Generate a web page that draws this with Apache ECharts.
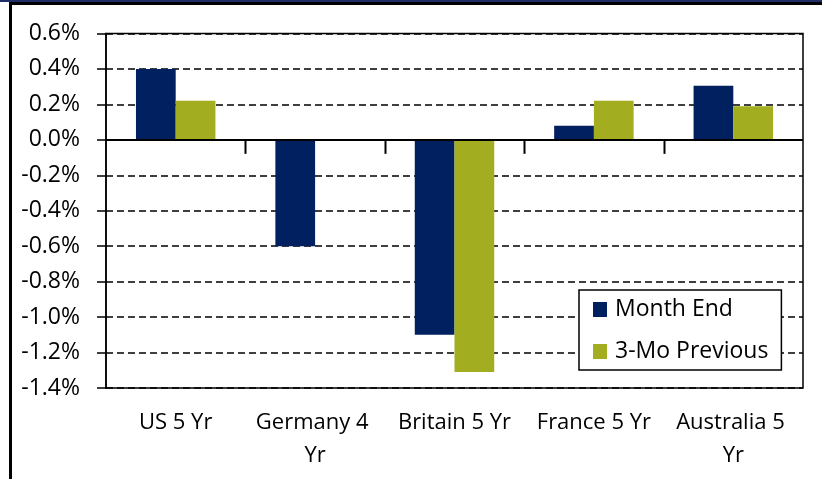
<!DOCTYPE html>
<html>
<head>
<meta charset="utf-8">
<script src="https://cdn.jsdelivr.net/npm/echarts@6/dist/echarts.min.js"></script>
<style>
  html, body { margin: 0; padding: 0; background: #fff; }
  #chart { width: 822px; height: 479px; }
</style>
</head>
<body>
<div id="chart"></div>
<script>
// Five-year (and German four-year) government bond changes, in percent
const categories = ['US 5 Yr', 'Germany 4 Yr', 'Britain 5 Yr', 'France 5 Yr', 'Australia 5 Yr'];
const monthEnd = [0.40, -0.60, -1.10, 0.08, 0.305];
const threeMoPrevious = [0.22, 0, -1.31, 0.22, 0.19];
const seriesNames = ['Month End', '3-Mo Previous'];
const yMin = -1.4, yMax = 0.6, yStep = 0.2;

const FONT = 'Open Sans';
const NAVY = '#002060';
const OLIVE = '#A2AD1F';
const ZERO_TICK_LEN = 14;

const chart = echarts.init(document.getElementById('chart'), null, { renderer: 'canvas' });

chart.setOption({
  backgroundColor: '#fff',
  animation: false,
  textStyle: { fontFamily: FONT },
  graphic: [
    { type: 'rect', shape: { x: 0, y: 0, width: 822, height: 2 }, style: { fill: '#1F2F66' } },
    { type: 'rect', shape: { x: 9, y: 2, width: 813, height: 3 }, style: { fill: '#000' } },
    { type: 'rect', shape: { x: 9, y: 2, width: 3, height: 477 }, style: { fill: '#000' } }
  ],
  grid: {
    left: 106, top: 33.5, right: 19, bottom: 91,
    show: true, borderColor: '#000', borderWidth: 1.5, backgroundColor: 'transparent'
  },
  legend: {
    orient: 'vertical',
    left: 579, top: 290,
    padding: [8, 13, 7, 14],
    itemWidth: 14, itemHeight: 15, itemGap: 19,
    icon: 'rect',
    backgroundColor: '#fff',
    borderColor: '#000', borderWidth: 1.5,
    textStyle: { fontFamily: FONT, fontSize: 23, color: '#000', lineHeight: 22, padding: [0, 0, 0, 3] },
    data: seriesNames
  },
  xAxis: {
    type: 'category',
    data: categories,
    axisLine: { show: false, onZero: false },
    axisTick: { show: false },
    axisLabel: {
      fontFamily: FONT, fontSize: 22, color: '#000',
      margin: 18, lineHeight: 33,
      width: 125, overflow: 'break', interval: 0
    },
    splitLine: { show: false }
  },
  yAxis: {
    type: 'value',
    min: yMin, max: yMax, interval: yStep,
    axisLine: { show: true, lineStyle: { color: '#000', width: 1.5 } },
    axisTick: { show: true, inside: false, length: 9, lineStyle: { color: '#000', width: 1.5 } },
    axisLabel: {
      fontFamily: FONT, fontSize: 23, color: '#000', margin: 26,
      formatter: v => v.toFixed(1) + '%'
    },
    splitLine: { show: true, lineStyle: { color: '#000', type: [7, 4], width: 1.5 } }
  },
  series: [
    {
      name: seriesNames[0], type: 'bar', data: monthEnd,
      itemStyle: { color: NAVY },
      barGap: '0%', barCategoryGap: '43%',
      markLine: {
        silent: true, symbol: 'none', animation: false,
        label: { show: false },
        lineStyle: { color: '#000', type: 'solid', width: 2 },
        data: [{ yAxis: 0 }]
      }
    },
    {
      name: seriesNames[1], type: 'bar', data: threeMoPrevious,
      itemStyle: { color: OLIVE },
      barGap: '0%', barCategoryGap: '43%'
    },
    {
      // category-boundary ticks hanging below the zero line
      name: 'zero-axis ticks', type: 'custom', silent: true, z: 10, clip: false,
      data: [[1, 0], [2, 0], [3, 0], [4, 0]],
      encode: { x: 0, y: 1 },
      renderItem: function (params, api) {
        const p = api.coord([api.value(0), 0]);
        const band = api.size([1, 0])[0];
        const x = Math.round(p[0] - band / 2) + 0.5;
        return {
          type: 'line',
          shape: { x1: x, y1: p[1], x2: x, y2: p[1] + ZERO_TICK_LEN },
          style: { stroke: '#000', lineWidth: 2 }
        };
      }
    }
  ]
});
</script>
</body>
</html>
